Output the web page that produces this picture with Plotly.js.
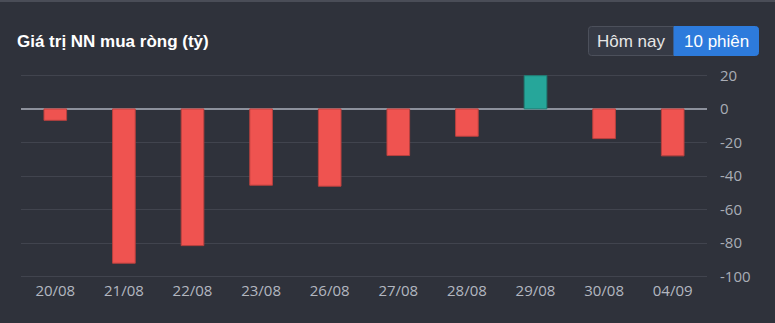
<!DOCTYPE html>
<html>
<head>
<meta charset="utf-8">
<script src="https://cdn.plot.ly/plotly-3.0.1.min.js"></script>
<style>
html,body{margin:0;padding:0;background:#2f323b;}
#chart{width:775px;height:323px;}
</style>
</head>
<body>
<div id="chart"></div>
<script>
const categories = ["20/08","21/08","22/08","23/08","26/08","27/08","28/08","29/08","30/08","04/09"];
const values = [-6.8, -92.0, -81.5, -45.5, -46.1, -27.8, -16.3, 19.8, -17.7, -28.0];
const yTickVals = [20, 0, -20, -40, -60, -80, -100];
const yTickText = ["20", "0", "-20", "-40", "-60", "-80", "-100"];
const titleText = "Giá trị NN mua ròng (tỷ)";
const buttonLabels = ["Hôm nay", "10 phiên"];

const W = 775, H = 323;
const M = {l: 21, r: 68, t: 72, b: 43};
const pw = W - M.l - M.r, ph = H - M.t - M.b;
const px = x => (x - M.l) / pw;
const py = y => (H - M.b - y) / ph;

const colors = values.map(v => v >= 0 ? "#26a69a" : "#ef5350");
const lineColors = values.map(v => v >= 0 ? "#1f7f76" : "#b8403e");

const trace = {
  type: "bar",
  x: categories,
  y: values,
  marker: {color: colors, line: {color: lineColors, width: 1}},
  hoverinfo: "x+y"
};

function rr(x0, y0, x1, y1, r, lr, rrr) {
  const X0 = px(x0), X1 = px(x1), Y0 = py(y0), Y1 = py(y1);
  const rx = r / pw, ry = r / ph;
  let p = "";
  p += "M" + (lr ? X0 + rx : X0) + "," + Y0;
  p += " L" + (rrr ? X1 - rx : X1) + "," + Y0;
  if (rrr) p += " Q" + X1 + "," + Y0 + " " + X1 + "," + (Y0 - ry);
  p += " L" + X1 + "," + (rrr ? Y1 + ry : Y1);
  if (rrr) p += " Q" + X1 + "," + Y1 + " " + (X1 - rx) + "," + Y1;
  p += " L" + (lr ? X0 + rx : X0) + "," + Y1;
  if (lr) p += " Q" + X0 + "," + Y1 + " " + X0 + "," + (Y1 + ry);
  p += " L" + X0 + "," + (lr ? Y0 - ry : Y0);
  if (lr) p += " Q" + X0 + "," + Y0 + " " + (X0 + rx) + "," + Y0;
  p += " Z";
  return p;
}

const layout = {
  width: W, height: H,
  margin: M,
  paper_bgcolor: "#2f323b",
  plot_bgcolor: "#2f323b",
  showlegend: false,
  bargap: 0.67,
  font: {family: "'Open Sans', 'Noto Sans', sans-serif", color: "#aeb2bb", size: 15},
  xaxis: {
    type: "category",
    showgrid: false,
    zeroline: false,
    showline: false,
    ticks: "",
    tickfont: {size: 15, color: "#b3b7c0"},
    fixedrange: true
  },
  yaxis: {
    side: "right",
    range: [-102, 22],
    tickvals: yTickVals,
    ticktext: yTickText,
    showgrid: true,
    gridcolor: "#41444e",
    gridwidth: 1,
    zeroline: true,
    zerolinecolor: "#8d919c",
    zerolinewidth: 2,
    showline: false,
    ticks: "",
    ticklabelstandoff: 12,
    tickfont: {size: 15, color: "#a9adb6"},
    fixedrange: true
  },
  shapes: [
    {type: "rect", xref: "paper", yref: "paper", x0: px(0), x1: px(W), y0: py(0), y1: py(2),
     fillcolor: "#4a4d57", line: {width: 0}},
    {type: "path", xref: "paper", yref: "paper", path: rr(588.5, 26.5, 674, 55.5, 3, true, false),
     fillcolor: "#363a45", line: {color: "#4c505b", width: 1}},
    {type: "path", xref: "paper", yref: "paper", path: rr(674, 26.5, 758.5, 55.5, 3, false, true),
     fillcolor: "#2d7bdc", line: {color: "#2d7bdc", width: 1}}
  ],
  annotations: [
    {xref: "paper", yref: "paper", x: px(15), y: py(41), xanchor: "left", yanchor: "middle",
     text: "<b>" + titleText + "</b>", showarrow: false,
     font: {family: "'Liberation Sans', Arial, sans-serif", size: 17, color: "#ffffff"}},
    {xref: "paper", yref: "paper", x: px(631), y: py(41), xanchor: "center", yanchor: "middle",
     text: buttonLabels[0], showarrow: false,
     font: {family: "'Liberation Sans', Arial, sans-serif", size: 17, color: "#e6e6e6"}},
    {xref: "paper", yref: "paper", x: px(716), y: py(41), xanchor: "center", yanchor: "middle",
     text: buttonLabels[1], showarrow: false,
     font: {family: "'Liberation Sans', Arial, sans-serif", size: 17, color: "#ffffff"}}
  ]
};

Plotly.newPlot("chart", [trace], layout, {displayModeBar: false});
</script>
</body>
</html>
